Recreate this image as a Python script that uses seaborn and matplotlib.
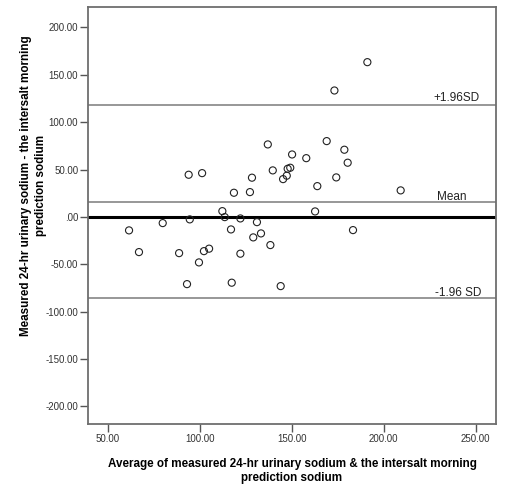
import matplotlib
matplotlib.use("Agg")
import matplotlib.pyplot as plt
import seaborn as sns
import pandas as pd

# Average of the two methods (x) and their difference (y)
avg_sodium = [191.1, 173.2, 94.0, 101.3, 137.0, 139.7, 128.4, 118.6, 127.3, 150.2,
              147.8, 149.2, 147.3, 145.3, 157.9, 169.0, 178.6, 180.4, 174.2, 163.9,
              209.2, 112.3, 162.7, 61.6, 79.9, 94.6, 113.6, 122.1, 131.1, 117.0,
              129.1, 133.3, 138.4, 67.0, 88.8, 102.3, 105.1, 99.6, 122.1, 93.1,
              117.4, 144.0, 183.3]
diff_sodium = [163.3, 133.4, 44.5, 46.2, 76.5, 49.1, 41.4, 25.5, 26.2, 65.9,
               50.8, 51.9, 43.5, 39.9, 62.0, 80.0, 70.9, 57.2, 41.7, 32.5,
               28.0, 6.1, 5.8, -14.2, -6.5, -2.6, -0.2, -1.6, -5.5, -13.2,
               -21.6, -17.4, -29.7, -37.1, -38.2, -36.1, -33.5, -48.0, -38.8, -70.9,
               -69.4, -73.0, -13.9]

# Bland-Altman reference lines
mean_diff = 15.8
upper_loa = 117.7
lower_loa = -85.8

x_ticks = [50, 100, 150, 200, 250]
y_ticks = [-200, -150, -100, -50, 0, 50, 100, 150, 200]

df = pd.DataFrame({"avg": avg_sodium, "diff": diff_sodium})

sns.set_style("white")
fam = ["Liberation Sans", "DejaVu Sans"]
plt.rcParams["font.family"] = fam

fig = plt.figure(figsize=(5.06, 4.88), dpi=100)
ax = fig.add_axes([88 / 506, 1 - 424 / 488, (496 - 88) / 506, (424 - 7) / 488])

sns.scatterplot(data=df, x="avg", y="diff", ax=ax, marker="o", s=26,
                facecolor="none", edgecolor="#222222", linewidth=0.8, zorder=3)

ax.axhline(0, color="black", lw=2.2, zorder=2)
for val in (mean_diff, upper_loa, lower_loa):
    ax.axhline(val, color="#7a7a7a", lw=1.1, zorder=2)

ax.set_xlim(39.3, 261)
ax.set_ylim(-218.5, 221.5)

lab_kw = dict(fontsize=8.5, color="#222222", va="bottom", ha="right")
ax.text(251.8, upper_loa + 1.5, "+1.96SD", **lab_kw)
ax.text(244.7, mean_diff - 1.5, "Mean", **lab_kw)
ax.text(252.9, lower_loa - 0.5, "-1.96 SD", **lab_kw)

ax.set_xticks(x_ticks)
ax.set_yticks(y_ticks)
ax.set_xticklabels([f"{v:.2f}" for v in x_ticks])
ax.set_yticklabels([".00" if v == 0 else f"{v:.2f}" for v in y_ticks])
ax.tick_params(axis="both", direction="out", length=6, width=1, color="#555555",
               labelsize=7.0, labelcolor="#333333", pad=1,
               left=True, bottom=True)

for sp in ax.spines.values():
    sp.set_color("#6e6e6e")
    sp.set_linewidth(1.3)

ax.set_xlabel("Average of measured 24-hr urinary sodium & the intersalt morning\nprediction sodium",
              fontsize=8.4, fontweight="bold", color="black", labelpad=10,
              linespacing=1.3)
ax.set_ylabel("Measured 24-hr urinary sodium - the intersalt morning\nprediction sodium",
              fontsize=8.4, fontweight="bold", color="black",
              linespacing=1.3)
ax.yaxis.set_label_coords(-0.1, 0.571)

fig.savefig("out.png", dpi=100)
